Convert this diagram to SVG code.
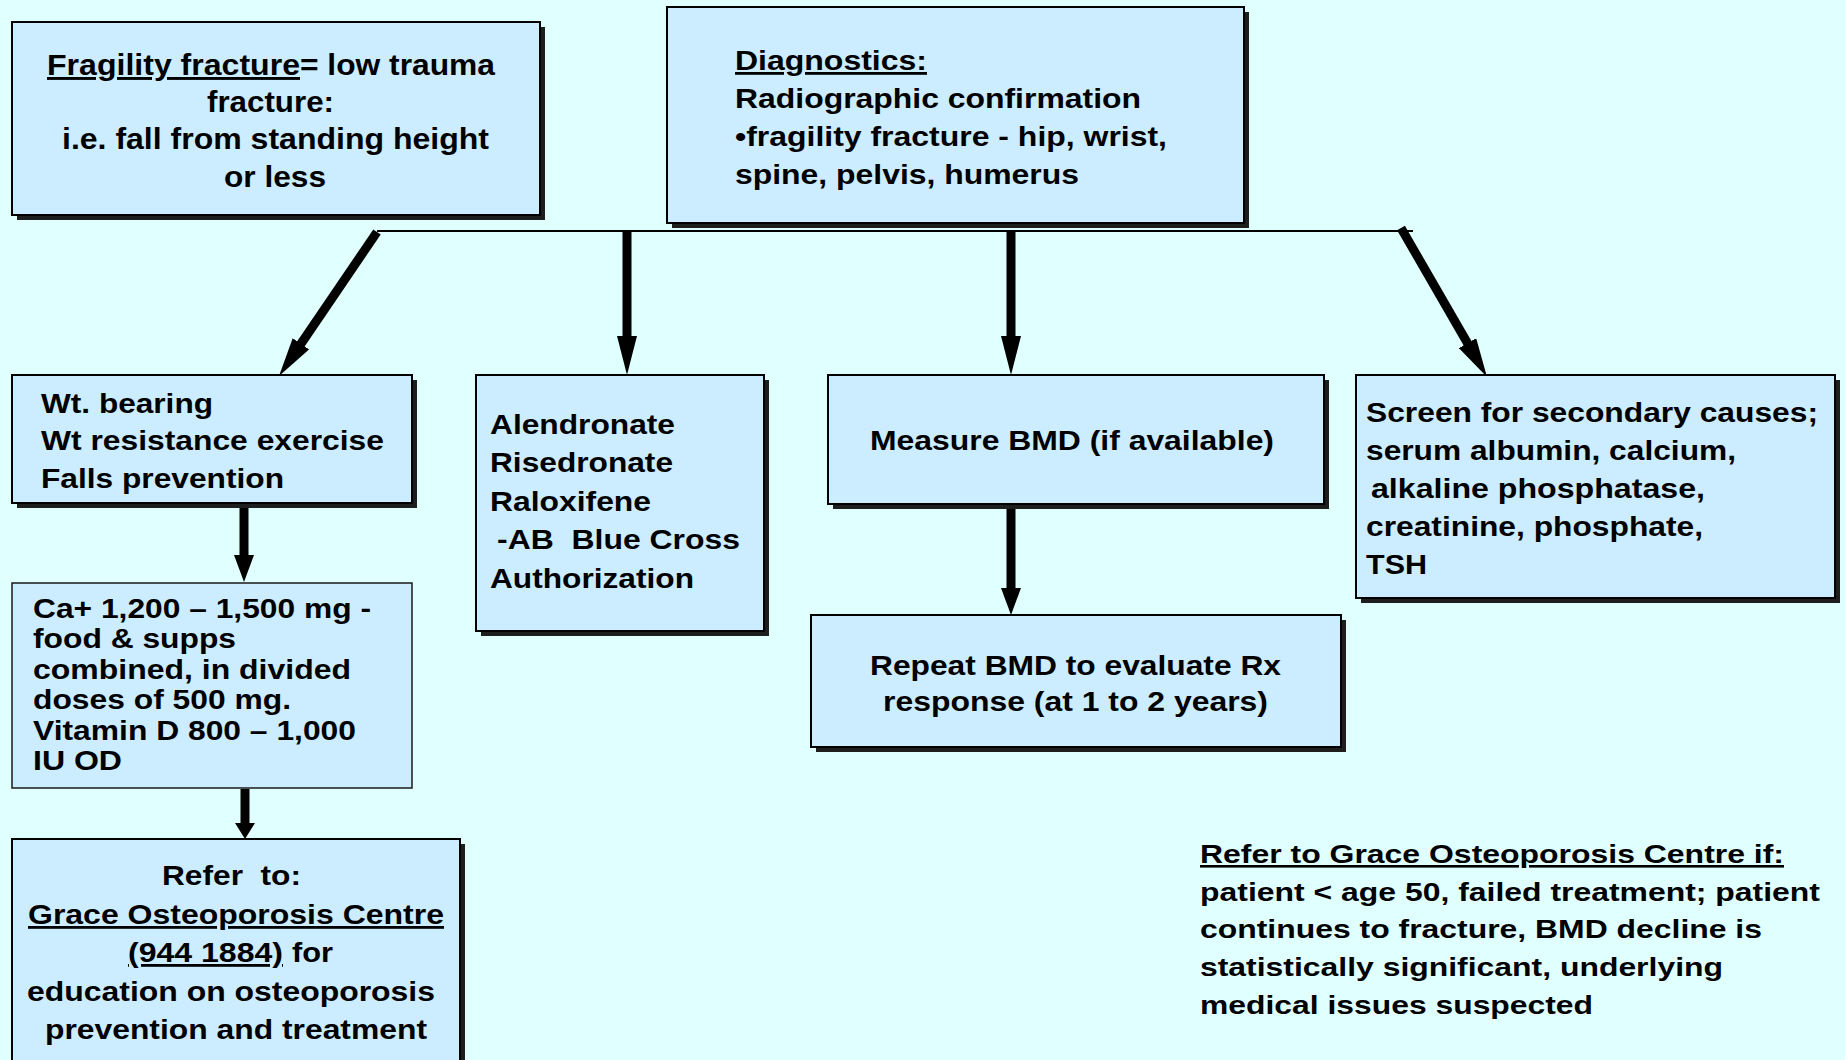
<svg xmlns="http://www.w3.org/2000/svg" width="1845" height="1060" viewBox="0 0 1845 1060">
<style>
.bg{fill:#E0FFFF}
.box{fill:#CCECFF;stroke:#000;stroke-width:2}
.thin{fill:#CCECFF;stroke:#1a1a1a;stroke-width:1.5}
.sh{fill:#1e1e1e}
.t{font-family:"Liberation Sans",Arial,sans-serif;font-weight:bold;font-size:28px;fill:#000;white-space:pre}
.n{font-size:26px}
.u{text-decoration:underline}
.conn{stroke:#000;stroke-width:9;fill:none}
.bar{stroke:#000;stroke-width:2;fill:none}
</style>
<defs>
<marker id="ah" markerUnits="userSpaceOnUse" markerWidth="39" markerHeight="20" viewBox="0 0 39 20" refX="1" refY="10" orient="auto"><path d="M0,0 L39,10 L0,20 z" fill="#000"/></marker>
<marker id="am" markerUnits="userSpaceOnUse" markerWidth="27" markerHeight="20" viewBox="0 0 27 20" refX="1" refY="10" orient="auto"><path d="M0,0 L27,10 L0,20 z" fill="#000"/></marker>
<marker id="as" markerUnits="userSpaceOnUse" markerWidth="16" markerHeight="20" viewBox="0 0 16 20" refX="1" refY="10" orient="auto"><path d="M0,0 L16,10 L0,20 z" fill="#000"/></marker>
</defs>
<rect class="bg" x="0" y="0" width="1845" height="1060"/>

<g id="connectors">
<line class="bar" x1="377" y1="231" x2="1413" y2="231"/>
<line class="conn" x1="377" y1="232" x2="300.4" y2="344.6" marker-end="url(#ah)"/>
<line class="conn" x1="627" y1="230" x2="627" y2="337" marker-end="url(#ah)"/>
<line class="conn" x1="1011" y1="230" x2="1011" y2="337" marker-end="url(#ah)"/>
<line class="conn" x1="1401" y1="228" x2="1468" y2="344" marker-end="url(#ah)"/>
<line class="conn" x1="244" y1="503" x2="244" y2="556" marker-end="url(#am)"/>
<line class="conn" x1="1011" y1="503" x2="1011" y2="589" marker-end="url(#am)"/>
<line class="conn" x1="245" y1="789" x2="245" y2="824" marker-end="url(#as)"/>
</g>

<g id="fragility">
<rect class="sh" x="17" y="27" width="528" height="193"/>
<rect class="box" x="12" y="22" width="528" height="193"/>
<text class="t u" x="47" y="75" textLength="253" lengthAdjust="spacingAndGlyphs" style="font-size:29px">Fragility fracture</text>
<text class="t" x="300" y="75" textLength="195" lengthAdjust="spacingAndGlyphs" style="font-size:29px">= low trauma</text>
<text class="t" x="207" y="112" textLength="127" lengthAdjust="spacingAndGlyphs" style="font-size:29px">fracture:</text>
<text class="t" x="62" y="149" textLength="427" lengthAdjust="spacingAndGlyphs" style="font-size:29px">i.e. fall from standing height</text>
<text class="t" x="224" y="187" textLength="102" lengthAdjust="spacingAndGlyphs" style="font-size:29px">or less</text>
</g>

<g id="diagnostics">
<rect class="sh" x="672" y="12" width="577" height="216"/>
<rect class="box" x="667" y="7" width="577" height="216"/>
<text class="t u" x="735" y="70" textLength="192" lengthAdjust="spacingAndGlyphs">Diagnostics:</text>
<text class="t" x="735" y="108" textLength="406" lengthAdjust="spacingAndGlyphs">Radiographic confirmation</text>
<text class="t" x="735" y="146" textLength="432" lengthAdjust="spacingAndGlyphs">•fragility fracture - hip, wrist,</text>
<text class="t" x="735" y="184" textLength="344" lengthAdjust="spacingAndGlyphs">spine, pelvis, humerus</text>
</g>

<g id="weight">
<rect class="sh" x="17" y="380" width="400" height="128"/>
<rect class="box" x="12" y="375" width="400" height="128"/>
<text class="t" x="41" y="413" textLength="172" lengthAdjust="spacingAndGlyphs">Wt. bearing</text>
<text class="t" x="41" y="450" textLength="343" lengthAdjust="spacingAndGlyphs">Wt resistance exercise</text>
<text class="t" x="41" y="488" textLength="243" lengthAdjust="spacingAndGlyphs">Falls prevention</text>
</g>

<g id="drugs">
<rect class="sh" x="481" y="380" width="288" height="256"/>
<rect class="box" x="476" y="375" width="288" height="256"/>
<text class="t" x="490" y="434" textLength="185" lengthAdjust="spacingAndGlyphs">Alendronate</text>
<text class="t" x="490" y="472" textLength="183" lengthAdjust="spacingAndGlyphs">Risedronate</text>
<text class="t" x="490" y="511" textLength="161" lengthAdjust="spacingAndGlyphs">Raloxifene</text>
<text class="t" x="497" y="549" textLength="243" lengthAdjust="spacingAndGlyphs">-AB  Blue Cross</text>
<text class="t" x="490" y="588" textLength="204" lengthAdjust="spacingAndGlyphs">Authorization</text>
</g>

<g id="measure">
<rect class="sh" x="833" y="380" width="496" height="129"/>
<rect class="box" x="828" y="375" width="496" height="129"/>
<text class="t" x="870" y="450" textLength="404" lengthAdjust="spacingAndGlyphs">Measure BMD (if available)</text>
</g>

<g id="screen">
<rect class="sh" x="1361" y="380" width="479" height="223"/>
<rect class="box" x="1356" y="375" width="479" height="223"/>
<text class="t" x="1366" y="422" textLength="452" lengthAdjust="spacingAndGlyphs">Screen for secondary causes;</text>
<text class="t" x="1366" y="460" textLength="370" lengthAdjust="spacingAndGlyphs">serum albumin, calcium,</text>
<text class="t" x="1371" y="498" textLength="334" lengthAdjust="spacingAndGlyphs">alkaline phosphatase,</text>
<text class="t" x="1366" y="536" textLength="337" lengthAdjust="spacingAndGlyphs">creatinine, phosphate,</text>
<text class="t" x="1366" y="574" textLength="61" lengthAdjust="spacingAndGlyphs">TSH</text>
</g>

<g id="calcium">
<rect class="thin" x="12" y="583" width="400" height="205"/>
<text class="t" x="33" y="618" textLength="338" lengthAdjust="spacingAndGlyphs">Ca+ 1,200 – 1,500 mg -</text>
<text class="t" x="33" y="648" textLength="203" lengthAdjust="spacingAndGlyphs">food &amp; supps</text>
<text class="t" x="33" y="679" textLength="318" lengthAdjust="spacingAndGlyphs">combined, in divided</text>
<text class="t" x="33" y="709" textLength="258" lengthAdjust="spacingAndGlyphs">doses of 500 mg.</text>
<text class="t" x="33" y="740" textLength="323" lengthAdjust="spacingAndGlyphs">Vitamin D 800 – 1,000</text>
<text class="t" x="33" y="770" textLength="89" lengthAdjust="spacingAndGlyphs">IU OD</text>
</g>

<g id="repeat">
<rect class="sh" x="816" y="620" width="530" height="132"/>
<rect class="box" x="811" y="615" width="530" height="132"/>
<text class="t" x="870" y="675" textLength="411" lengthAdjust="spacingAndGlyphs">Repeat BMD to evaluate Rx</text>
<text class="t" x="883" y="711" textLength="385" lengthAdjust="spacingAndGlyphs">response (at 1 to 2 years)</text>
</g>

<g id="refer">
<rect class="sh" x="17" y="844" width="448" height="230"/>
<rect class="box" x="12" y="839" width="448" height="230"/>
<text class="t" x="162" y="885" textLength="139" lengthAdjust="spacingAndGlyphs">Refer  to:</text>
<text class="t u" x="28" y="924" textLength="416" lengthAdjust="spacingAndGlyphs">Grace Osteoporosis Centre</text>
<text class="t u" x="128" y="962" textLength="155" lengthAdjust="spacingAndGlyphs">(944 1884)</text>
<text class="t" x="292" y="962" textLength="41" lengthAdjust="spacingAndGlyphs">for</text>
<text class="t" x="27" y="1001" textLength="408" lengthAdjust="spacingAndGlyphs">education on osteoporosis</text>
<text class="t" x="45" y="1039" textLength="382" lengthAdjust="spacingAndGlyphs">prevention and treatment</text>
</g>

<g id="note">
<text class="t n u" x="1200" y="863" textLength="584" lengthAdjust="spacingAndGlyphs">Refer to Grace Osteoporosis Centre if:</text>
<text class="t n" x="1200" y="901" textLength="620" lengthAdjust="spacingAndGlyphs">patient &lt; age 50, failed treatment; patient</text>
<text class="t n" x="1200" y="938" textLength="562" lengthAdjust="spacingAndGlyphs">continues to fracture, BMD decline is</text>
<text class="t n" x="1200" y="976" textLength="523" lengthAdjust="spacingAndGlyphs">statistically significant, underlying</text>
<text class="t n" x="1200" y="1014" textLength="393" lengthAdjust="spacingAndGlyphs">medical issues suspected</text>
</g>
</svg>
